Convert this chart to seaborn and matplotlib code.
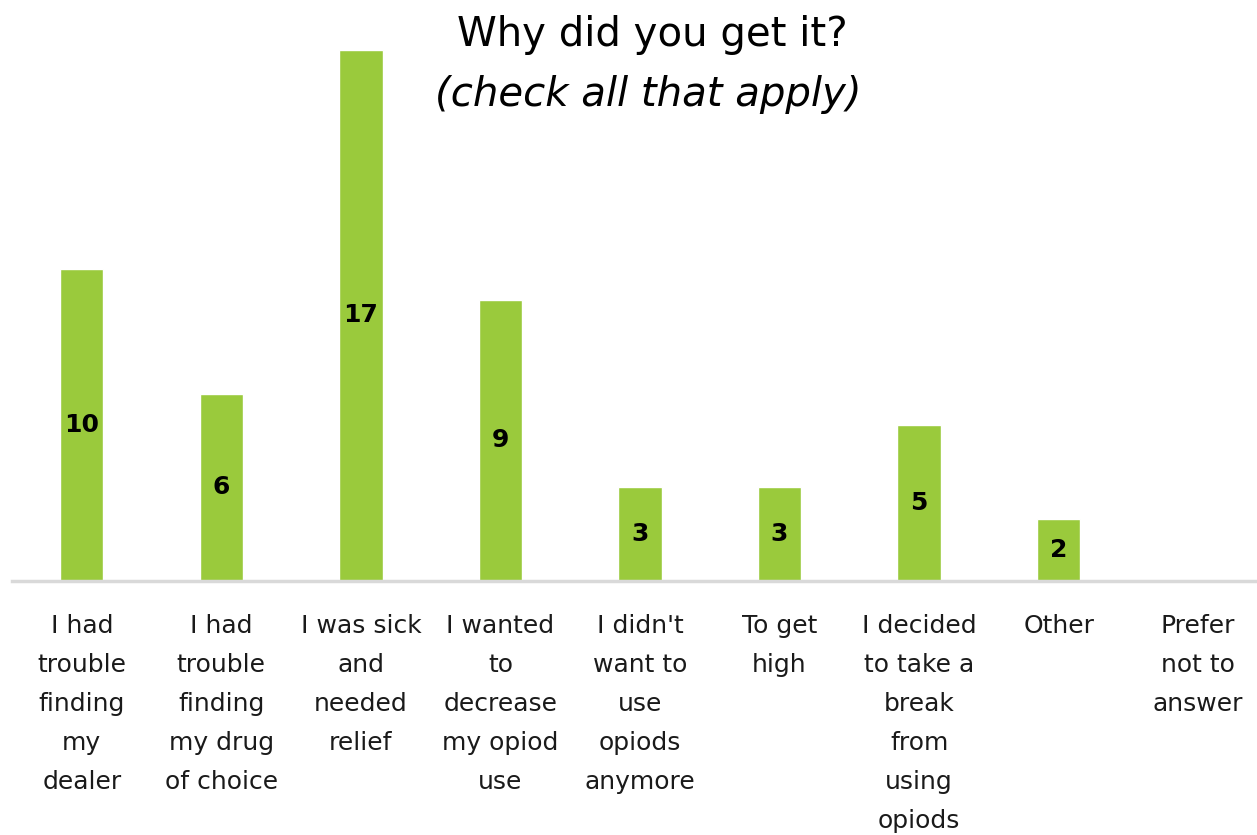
import matplotlib
matplotlib.use('Agg')
import matplotlib.pyplot as plt
import pandas as pd
import seaborn as sns

# survey answers, one bar per reason
reasons = ["I had\ntrouble\nfinding\nmy\ndealer",
           "I had\ntrouble\nfinding\nmy drug\nof choice",
           "I was sick\nand\nneeded\nrelief",
           "I wanted\nto\ndecrease\nmy opiod\nuse",
           "I didn't\nwant to\nuse\nopiods\nanymore",
           "To get\nhigh",
           "I decided\nto take a\nbreak\nfrom\nusing\nopiods",
           "Other",
           "Prefer\nnot to\nanswer"]
counts = [10, 6, 17, 9, 3, 3, 5, 2, 0]

df = pd.DataFrame({'reason': reasons, 'count': counts})

sns.set_style("white")
plt.rcParams['font.family'] = ['DejaVu Sans']

fig = plt.figure(figsize=(12.57, 8.35), dpi=100)
# axes runs a little past the right edge, like the original slide crop
ax = fig.add_axes([12/1257, 254/835, 1256/1257, (581 - 50)/835])

sns.barplot(data=df, x='reason', y='count', color='#9ACA3C', width=0.31,
            saturation=1, ax=ax)

ax.set_ylim(0, 17)
ax.set_xlim(-0.5, len(reasons) - 0.5)
ax.set_xlabel('')
ax.set_ylabel('')
ax.set_yticks([])

for s in ['top', 'right', 'left']:
    ax.spines[s].set_visible(False)
ax.spines['bottom'].set_color('#D9D9D9')
ax.spines['bottom'].set_linewidth(2.5)

ax.tick_params(axis='x', length=0, pad=24)
ax.set_xticks(range(len(reasons)))
ax.set_xticklabels(reasons, fontsize=18, color='#1a1a1a', linespacing=1.79)

# value labels in the middle of each bar
for i, v in enumerate(counts):
    if v > 0:
        ax.text(i, v / 2, str(v), ha='center', va='center',
                fontsize=18, fontweight='bold', color='black')

fig.text(652/1257, 1 - 35/835, 'Why did you get it?', ha='center', va='center',
         fontsize=29, color='black')
fig.text(648/1257, 1 - 95/835, '(check all that apply)', ha='center', va='center',
         fontsize=29, style='italic', color='black')

fig.savefig('out.png', dpi=100)
